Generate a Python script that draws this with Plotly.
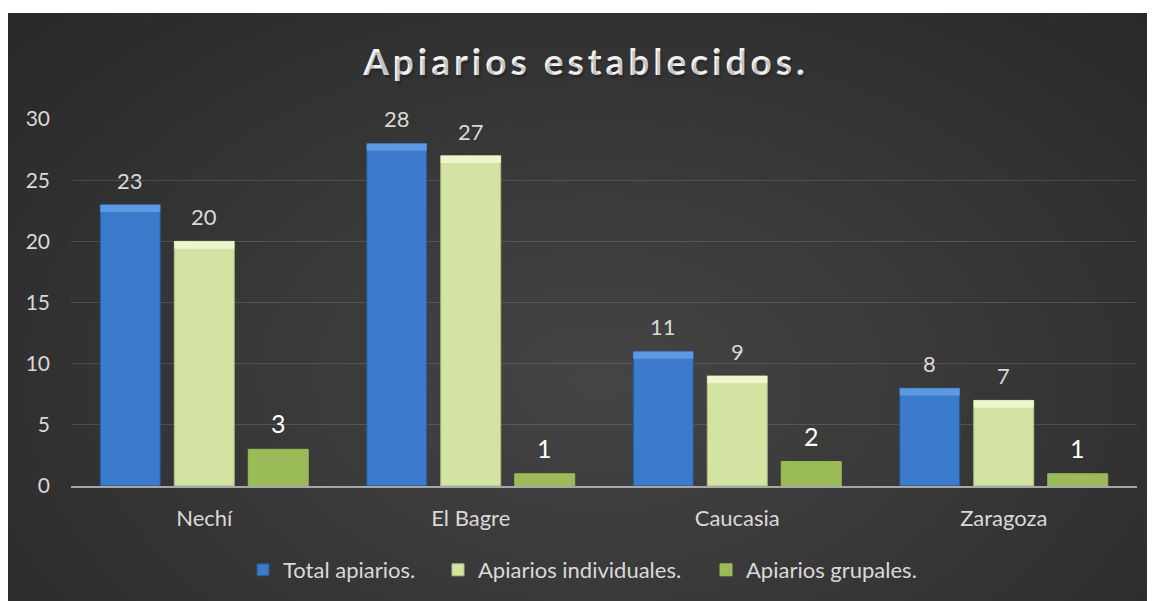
import plotly.graph_objects as go

# ---- data ----
categories = ["Nechí", "El Bagre", "Caucasia", "Zaragoza"]
total_apiarios = [23, 28, 11, 8]
apiarios_individuales = [20, 27, 9, 7]
apiarios_grupales = [3, 1, 2, 1]
series_names = ["Total apiarios.", "Apiarios individuales.", "Apiarios grupales."]
y_ticks = [0, 5, 10, 15, 20, 25, 30]
title_text = "Apiarios establecidos."

# ---- geometry (page pixels; the page body adds an 8px offset) ----
OFF = 8
W, H = 1155 - OFF, 601 - OFF
L = 71 - OFF
T = 119 - OFF
R = W - (1137 - OFF)
B = H - (486 - OFF)
PW, PH = W - L - R, H - T - B


def px(x):  # page x -> paper
    return (x - OFF - L) / PW


def py(y):  # page y -> paper
    return (H - B - (y - OFF)) / PH


def cx_(x):  # page x -> container
    return (x - OFF) / W


def cy_(y):  # page y -> container
    return 1 - (y - OFF) / H


FONT = "Lato"
series_values = [total_apiarios, apiarios_individuales, apiarios_grupales]
colors = ["#3c7acb", "#d2e3a4", "#9bbb59"]
line_colors = ["#2a568f", "#aebf80", "#9bbb59"]
cap_colors = ["#5d98e2", "#eef6cf", None]
label_colors = ["#d9d9d9", "#d9d9d9", "#ffffff"]
label_sizes = [22, 22, 25]
legend_ids = ["legend", "legend2", "legend3"]
legend_text_x = [283, 478, 746]  # page px where each legend text starts
CAP = 0.6  # bevel cap height in data units

fig = go.Figure()
for j, (name, vals, c, lc) in enumerate(zip(series_names, series_values, colors, line_colors)):
    fig.add_trace(go.Bar(
        x=categories, y=vals, name=name, offsetgroup=str(j),
        marker=dict(color=c, line=dict(color=lc, width=1)),
        legend=legend_ids[j], hoverinfo="x+y+name",
    ))
for j, vals in enumerate(series_values):
    if cap_colors[j] is None:
        continue
    fig.add_trace(go.Bar(
        x=categories, y=[CAP] * len(vals), base=[v - CAP for v in vals],
        offsetgroup=str(j), showlegend=False, hoverinfo="skip",
        marker=dict(color=cap_colors[j], line=dict(width=0)),
    ))

BARGAP = 0.167
BARGROUPGAP = 0.19
n = len(series_values)
slot = (1 - BARGAP) / n
annotations = []
for j, vals in enumerate(series_values):
    off = (j - (n - 1) / 2) * slot
    for i, v in enumerate(vals):
        annotations.append(dict(
            x=i + off, y=v, xref="x", yref="y", text=str(v),
            showarrow=False, yanchor="bottom", yshift=9,
            font=dict(family=FONT, size=label_sizes[j], color=label_colors[j]),
        ))

TITLE_HTML = '<span style="letter-spacing:4px">' + title_text + '</span>'
# title shadow
annotations.append(dict(
    x=px(587.5), y=py(64), xref="paper", yref="paper",
    text=TITLE_HTML,
    showarrow=False, xanchor="center", yanchor="middle",
    font=dict(family=FONT, size=37, color="rgba(0,0,0,0.2)", weight="bold"),
))

shapes = [dict(type="rect", xref="paper", yref="paper", layer="below",
               x0=px(7), x1=px(1200), y0=py(700), y1=py(13),
               fillcolor="#262626", line=dict(width=0))]
# radial gradient approximation
gcx, gcy = 600, 380
steps = 30
for k in range(steps):
    f = 1 - k / steps
    rx, ry = 860 * f, 560 * f
    shapes.append(dict(type="circle", xref="paper", yref="paper", layer="below",
                       x0=px(gcx - rx), x1=px(gcx + rx),
                       y0=py(gcy + ry), y1=py(gcy - ry),
                       fillcolor="rgba(255,255,255,0.0085)", line=dict(width=0)))
# white frame outside the dark panel
shapes.append(dict(type="rect", xref="paper", yref="paper", layer="below",
                   x0=px(-50), x1=px(7), y0=py(700), y1=py(-50),
                   fillcolor="white", line=dict(width=0)))
shapes.append(dict(type="rect", xref="paper", yref="paper", layer="below",
                   x0=px(-50), x1=px(1300), y0=py(13), y1=py(-50),
                   fillcolor="white", line=dict(width=0)))

legend_common = dict(
    orientation="h", xref="container", xanchor="left",
    y=cy_(570), yref="container", yanchor="middle",
    font=dict(family=FONT, size=22, color="#d9d9d9"),
    bgcolor="rgba(0,0,0,0)",
)
legends = {lid: dict(legend_common, x=cx_(tx - 40)) for lid, tx in zip(legend_ids, legend_text_x)}

fig.update_layout(
    width=W, height=H, autosize=False,
    margin=dict(l=L, r=R, t=T, b=B),
    paper_bgcolor="white", plot_bgcolor="rgba(0,0,0,0)",
    barmode="group", bargap=BARGAP, bargroupgap=BARGROUPGAP,
    title=dict(
        text=TITLE_HTML,
        x=cx_(586), xref="container", xanchor="center",
        y=cy_(62), yref="container", yanchor="middle",
        font=dict(family=FONT, size=37, color="#f2f2f2", weight="bold"),
    ),
    font=dict(family=FONT, color="#d9d9d9"),
    xaxis=dict(
        type="category", showgrid=False, showline=True, linecolor="#a6a6a6",
        linewidth=2, ticks="", ticklabelstandoff=12,
        tickfont=dict(family=FONT, size=22, color="#d9d9d9"),
    ),
    yaxis=dict(
        range=[0, 30], tickvals=y_ticks, showgrid=True,
        gridcolor="rgba(255,255,255,0.13)", gridwidth=1, zeroline=False,
        showline=False, ticks="", ticklabelstandoff=20,
        tickfont=dict(family=FONT, size=21, color="#d9d9d9"),
    ),
    shapes=shapes,
    annotations=annotations,
    showlegend=True,
    **legends,
)

fig.write_html("out.html")
